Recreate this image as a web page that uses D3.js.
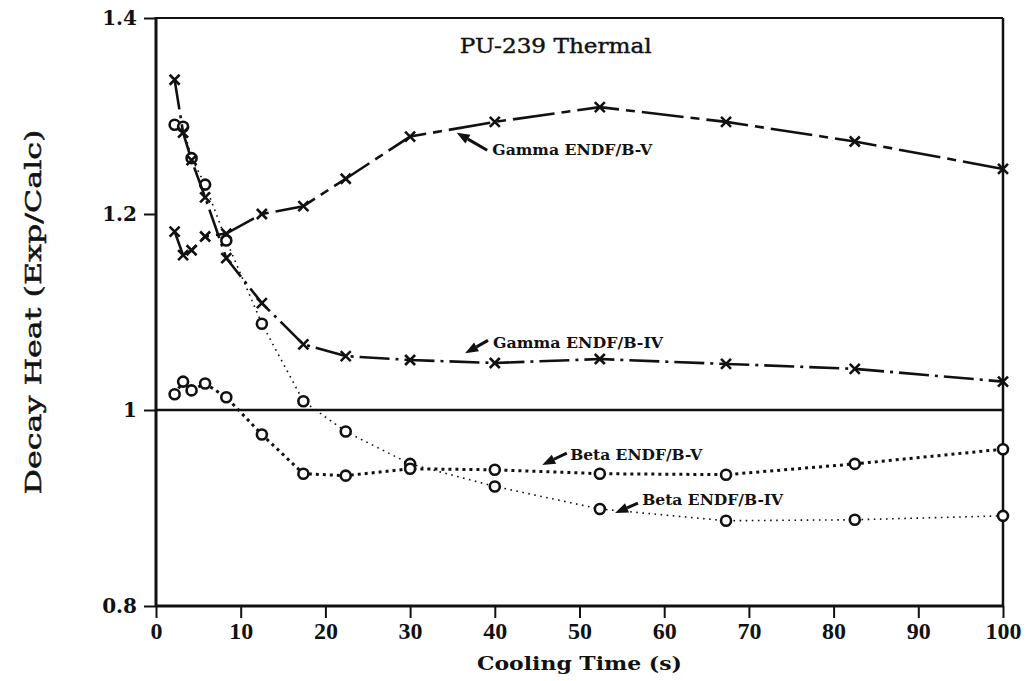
<!DOCTYPE html>
<html>
<head>
<meta charset="utf-8">
<script src="https://cdn.jsdelivr.net/npm/d3@7"></script>
<style>
  html, body { margin: 0; padding: 0; background: #fff; }
  svg { display: block; }
</style>
</head>
<body>
<svg id="chart" width="1032" height="681"></svg>
<script>
// Cooling times (s) shared by all four ratio series
const times = [2.2, 3.2, 4.2, 5.8, 8.3, 12.5, 17.4, 22.4, 30.0, 40.0, 52.4, 67.3, 82.5, 100];

// Decay heat ratios (Exp/Calc)
const gammaV  = [1.182, 1.158, 1.163, 1.177, 1.180, 1.200, 1.208, 1.236, 1.279, 1.294, 1.309, 1.294, 1.274, 1.246];
const gammaIV = [1.337, 1.283, 1.255, 1.217, 1.155, 1.109, 1.067, 1.055, 1.051, 1.048, 1.052, 1.047, 1.042, 1.029];
const betaV   = [1.016, 1.029, 1.020, 1.027, 1.013, 0.975, 0.935, 0.933, 0.940, 0.939, 0.935, 0.934, 0.945, 0.960];
const betaIV  = [1.291, 1.289, 1.257, 1.230, 1.173, 1.088, 1.009, 0.978, 0.945, 0.922, 0.899, 0.887, 0.888, 0.892];

// Axis ticks
const xTicks = [0, 10, 20, 30, 40, 50, 60, 70, 80, 90, 100];
const yTicks = [0.8, 1.0, 1.2, 1.4];
const yTickLabels = ["0.8", "1", "1.2", "1.4"];

const svg = d3.select("#chart");
const m = { left: 156, right: 1003, top: 18, bottom: 606 };

const x = d3.scaleLinear().domain([0, 100]).range([m.left, m.right]);
const y = d3.scaleLinear().domain([0.8, 1.4]).range([m.bottom, m.top]);

const ink = "#111";

// Axes
const xAxis = svg.append("g")
  .attr("transform", `translate(0,${m.bottom})`)
  .call(d3.axisBottom(x).tickValues(xTicks).tickSize(12).tickPadding(4).tickFormat(d3.format("d")));
xAxis.select(".domain").remove();
xAxis.selectAll(".tick line").attr("stroke", ink).attr("stroke-width", 2);
xAxis.selectAll(".tick text")
  .attr("fill", ink)
  .style("font-family", "'Liberation Serif', serif")
  .style("font-weight", "bold")
  .style("font-size", "24px");

const yAxis = svg.append("g")
  .attr("transform", `translate(${m.left},0)`)
  .call(d3.axisLeft(y).tickValues(yTicks).tickSize(12).tickPadding(7)
    .tickFormat((d, i) => yTickLabels[i]));
yAxis.select(".domain").remove();
yAxis.selectAll(".tick line").attr("stroke", ink).attr("stroke-width", 2);
yAxis.selectAll(".tick text")
  .attr("fill", ink)
  .style("font-family", "'DejaVu Serif', serif")
  .style("font-weight", "bold")
  .style("font-size", "20px");

// Plot frame
const frame = svg.append("g").attr("stroke", ink).attr("fill", "none");
frame.append("line").attr("x1", m.left).attr("x2", m.left).attr("y1", m.top - 1).attr("y2", m.bottom + 1).attr("stroke-width", 3);
frame.append("line").attr("x1", m.left).attr("x2", m.right).attr("y1", m.bottom).attr("y2", m.bottom).attr("stroke-width", 3);
frame.append("line").attr("x1", m.left).attr("x2", m.right).attr("y1", m.top).attr("y2", m.top).attr("stroke-width", 2.2);
frame.append("line").attr("x1", m.right).attr("x2", m.right).attr("y1", m.top).attr("y2", m.bottom).attr("stroke-width", 2.5);

// Unity reference line
svg.append("line")
  .attr("x1", x(0)).attr("x2", x(100))
  .attr("y1", y(1)).attr("y2", y(1))
  .attr("stroke", ink).attr("stroke-width", 2.4);

// Series
const series = [
  { values: betaIV,  marker: "circle", width: 1.6, dash: "1.6,4.5" },
  { values: betaV,   marker: "circle", width: 3,   dash: "3,4" },
  { values: gammaIV, marker: "cross",  width: 2.6, dash: "30,6,3,6" },
  { values: gammaV,  marker: "cross",  width: 2.6, dash: "42,7,9,7" }
];

const line = d3.line().x(d => x(d[0])).y(d => y(d[1]));

series.forEach(s => {
  const pts = times.map((t, i) => [t, s.values[i]]);
  svg.append("path")
    .datum(pts)
    .attr("d", line)
    .attr("fill", "none")
    .attr("stroke", ink)
    .attr("stroke-width", s.width)
    .attr("stroke-dasharray", s.dash);

  const g = svg.append("g");
  if (s.marker === "circle") {
    g.selectAll("circle").data(pts).join("circle")
      .attr("cx", d => x(d[0])).attr("cy", d => y(d[1]))
      .attr("r", 5)
      .attr("fill", "#fff")
      .attr("stroke", ink)
      .attr("stroke-width", 2.6);
  } else {
    const r = 5;
    g.selectAll("path").data(pts).join("path")
      .attr("d", d => {
        const cx = x(d[0]), cy = y(d[1]);
        return `M${cx - r},${cy - r}L${cx + r},${cy + r}M${cx - r},${cy + r}L${cx + r},${cy - r}`;
      })
      .attr("stroke", ink)
      .attr("stroke-width", 2.6)
      .attr("fill", "none");
  }
});

// Curve annotations with arrows (data coordinates)
const notes = [
  { text: "Gamma ENDF/B-V",  tx: 39.7, ty: 1.260, len: 160, tail: [39.1, 1.265], tip: [35.5, 1.283] },
  { text: "Gamma ENDF/B-IV", tx: 39.8, ty: 1.063, len: 170, tail: [39.2, 1.071], tip: [36.5, 1.058] },
  { text: "Beta ENDF/B-V",   tx: 48.9, ty: 0.949, len: 132, tail: [48.5, 0.956], tip: [45.6, 0.944] },
  { text: "Beta ENDF/B-IV",  tx: 57.4, ty: 0.903, len: 141, tail: [56.9, 0.905], tip: [54.2, 0.895] }
];

notes.forEach(n => {
  svg.append("text")
    .attr("x", x(n.tx)).attr("y", y(n.ty))
    .attr("textLength", n.len)
    .attr("lengthAdjust", "spacingAndGlyphs")
    .attr("fill", ink)
    .style("font-family", "'DejaVu Serif', serif")
    .style("font-weight", "bold")
    .style("font-size", "15px")
    .text(n.text);

  const x0 = x(n.tail[0]), y0 = y(n.tail[1]);
  const x1 = x(n.tip[0]),  y1 = y(n.tip[1]);
  const ang = Math.atan2(y1 - y0, x1 - x0);
  const hl = 13, hw = 5;
  const bx = x1 - hl * Math.cos(ang), by = y1 - hl * Math.sin(ang);
  svg.append("line")
    .attr("x1", x0).attr("y1", y0).attr("x2", bx).attr("y2", by)
    .attr("stroke", ink).attr("stroke-width", 3);
  svg.append("path")
    .attr("d", `M${x1},${y1}L${bx + hw * Math.sin(ang)},${by - hw * Math.cos(ang)}L${bx - hw * Math.sin(ang)},${by + hw * Math.cos(ang)}Z`)
    .attr("fill", ink);
});

// Title inside the plot
svg.append("text")
  .attr("x", x(47.2)).attr("y", y(1.364))
  .attr("text-anchor", "middle")
  .attr("textLength", 192)
  .attr("lengthAdjust", "spacingAndGlyphs")
  .attr("fill", ink)
  .style("font-family", "'DejaVu Serif', serif")
  .style("font-size", "20px")
  .style("stroke", ink)
  .style("stroke-width", 0.4)
  .text("PU-239 Thermal");

// Axis titles
svg.append("text")
  .attr("x", (m.left + m.right) / 2).attr("y", 670)
  .attr("text-anchor", "middle")
  .attr("textLength", 205)
  .attr("lengthAdjust", "spacingAndGlyphs")
  .attr("fill", ink)
  .style("font-family", "'DejaVu Serif', serif")
  .style("font-weight", "bold")
  .style("font-size", "19px")
  .text("Cooling Time (s)");

svg.append("text")
  .attr("transform", `translate(41,${(m.top + m.bottom) / 2}) rotate(-90)`)
  .attr("text-anchor", "middle")
  .attr("textLength", 365)
  .attr("lengthAdjust", "spacingAndGlyphs")
  .attr("fill", ink)
  .style("font-family", "'DejaVu Serif', serif")
  .style("font-size", "22px")
  .style("stroke", ink)
  .style("stroke-width", 0.5)
  .text("Decay Heat (Exp/Calc)");
</script>
</body>
</html>
